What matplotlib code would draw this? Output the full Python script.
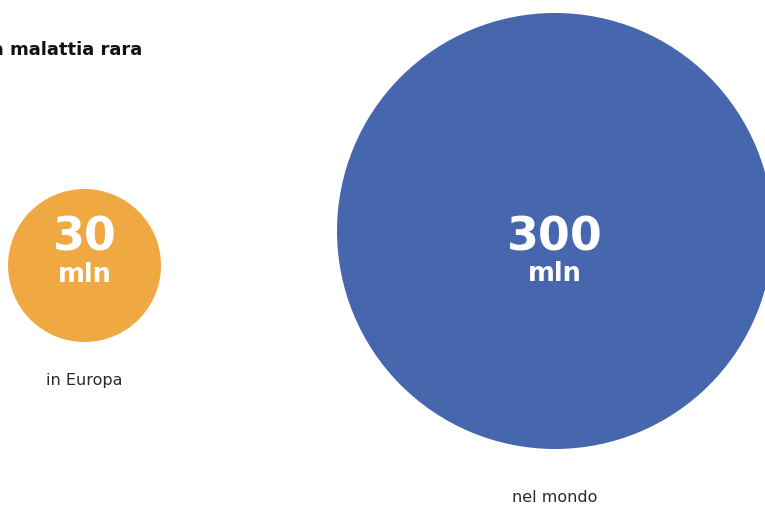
import matplotlib.pyplot as plt
from matplotlib.patches import Circle

# dati
valori = [30, 300]
etichette = ["in Europa", "nel mondo"]
unita = "mln"
titolo = "Persone con una malattia rara"

# stile / posizioni (pixel)
colori = ["#F0A843", "#4667AE"]
centri = [(84.5, 265.5), (555, 231)]
raggi = [76.5, 218]
y_numero = [238, 238]
y_unita = [275, 274]
pos_etichette = [381, 497]

plt.rcParams['font.family'] = ['DejaVu Sans']

fig = plt.figure(figsize=(7.65, 5.05), dpi=100)
ax = fig.add_axes([0, 0, 1, 1])
ax.set_xlim(0, 765)
ax.set_ylim(505, 0)
ax.axis('off')

for i, v in enumerate(valori):
    cx, cy = centri[i]
    ax.add_patch(Circle((cx, cy), raggi[i], color=colori[i], lw=0))
    ax.text(cx, y_numero[i], str(v), color='white', fontsize=33, fontweight='bold',
            ha='center', va='center')
    ax.text(cx, y_unita[i], unita, color='white', fontsize=18.5, fontweight='bold',
            ha='center', va='center')
    ax.text(cx, pos_etichette[i], etichette[i], color='#2a2a2a', fontsize=11.5,
            ha='center', va='center')

# il titolo e' tagliato a sinistra come nell'originale
ax.text(142, 50, titolo, color='#111111', fontsize=13, fontweight='bold',
        ha='right', va='center')

plt.savefig('out.png', dpi=100)
